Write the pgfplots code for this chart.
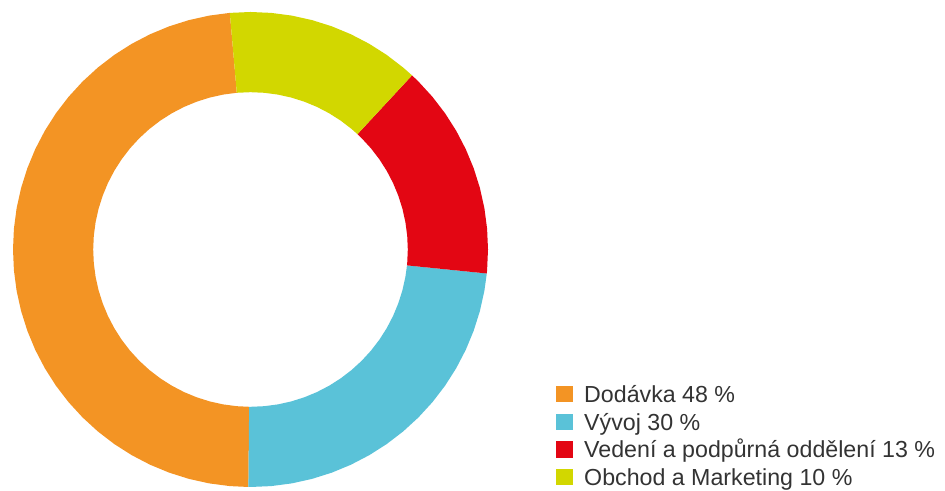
\documentclass[border=0pt]{standalone}
\usepackage{fontspec}
\setmainfont{Liberation Sans}
\usepackage{pgfplots}
\pgfplotsset{compat=1.18}
\definecolor{cOrange}{HTML}{F39424}
\definecolor{cCyan}{HTML}{5AC2D8}
\definecolor{cRed}{HTML}{E30613}
\definecolor{cYellow}{HTML}{D2D700}
\definecolor{cText}{HTML}{333333}
\begin{document}
\begin{tikzpicture}
\begin{axis}[
  x=0.5pt, y=0.5pt,
  xmin=-240, xmax=240, ymin=-240, ymax=240,
  hide axis, clip=false,
  data cs=polar,
  anchor=origin, at={(125.25pt,120.75pt)},
  legend cell align=left,
  legend image code/.code={\fill[#1] (0pt,-4.05pt) rectangle (8.4pt,4.15pt);},
  legend style={draw=none, fill=none, inner sep=0pt, outer sep=0pt,
    at={(1.13646,0.2156)}, anchor=north west,
    row sep=5.6pt, column sep=5.7pt,
    font=\fontsize{11.6}{13}\selectfont,
    nodes={inner sep=0pt, text=cText, text height=8.1pt, text depth=0pt}},
]
% Dodávka (orange)
\addplot[fill=cOrange, draw=none] coordinates {
(95,237.5)(100,237.5)(105,237.5)(110,237.5)(115,237.5)(120,237.5)(125,237.5)(130,237.5)(135,237.5)(140,237.5)(145,237.5)(150,237.5)(155,237.5)(160,237.5)(165,237.5)(170,237.5)(175,237.5)(180,237.5)(185,237.5)(190,237.5)(195,237.5)(200,237.5)(205,237.5)(210,237.5)(215,237.5)(220,237.5)(225,237.5)(230,237.5)(235,237.5)(240,237.5)(245,237.5)(250,237.5)(255,237.5)(260,237.5)(265,237.5)(269.5,237.5)
(269.5,157.3)(265,157.3)(260,157.3)(255,157.3)(250,157.3)(245,157.3)(240,157.3)(235,157.3)(230,157.3)(225,157.3)(220,157.3)(215,157.3)(210,157.3)(205,157.3)(200,157.3)(195,157.3)(190,157.3)(185,157.3)(180,157.3)(175,157.3)(170,157.3)(165,157.3)(160,157.3)(155,157.3)(150,157.3)(145,157.3)(140,157.3)(135,157.3)(130,157.3)(125,157.3)(120,157.3)(115,157.3)(110,157.3)(105,157.3)(100,157.3)(95,157.3)
};
\addlegendentry{Dodávka 48 \%}
% Vývoj (cyan)
\addplot[fill=cCyan, draw=none] coordinates {
(-5.8,237.5)(-10,237.5)(-15,237.5)(-20,237.5)(-25,237.5)(-30,237.5)(-35,237.5)(-40,237.5)(-45,237.5)(-50,237.5)(-55,237.5)(-60,237.5)(-65,237.5)(-70,237.5)(-75,237.5)(-80,237.5)(-85,237.5)(-90,237.5)(-90.5,237.5)
(-90.5,157.3)(-90,157.3)(-85,157.3)(-80,157.3)(-75,157.3)(-70,157.3)(-65,157.3)(-60,157.3)(-55,157.3)(-50,157.3)(-45,157.3)(-40,157.3)(-35,157.3)(-30,157.3)(-25,157.3)(-20,157.3)(-15,157.3)(-10,157.3)(-5.8,157.3)
};
\addlegendentry{Vývoj 30 \%}
% Vedení (red)
\addplot[fill=cRed, draw=none] coordinates {
(47.15,237.5)(45,237.5)(40,237.5)(35,237.5)(30,237.5)(25,237.5)(20,237.5)(15,237.5)(10,237.5)(5,237.5)(0,237.5)(-5,237.5)(-5.8,237.5)
(-5.8,157.3)(-5,157.3)(0,157.3)(5,157.3)(10,157.3)(15,157.3)(20,157.3)(25,157.3)(30,157.3)(35,157.3)(40,157.3)(45,157.3)(47.15,157.3)
};
\addlegendentry{Vedení a podpůrná oddělení 13 \%}
% Obchod (yellow)
\addplot[fill=cYellow, draw=none] coordinates {
(95,237.5)(90,237.5)(85,237.5)(80,237.5)(75,237.5)(70,237.5)(65,237.5)(60,237.5)(55,237.5)(50,237.5)(47.15,237.5)
(47.15,157.3)(50,157.3)(55,157.3)(60,157.3)(65,157.3)(70,157.3)(75,157.3)(80,157.3)(85,157.3)(90,157.3)(95,157.3)
};
\addlegendentry{Obchod a Marketing 10 \%}
\end{axis}
\pgfresetboundingbox
\path[use as bounding box] (0,0) rectangle (472.5pt,245.5pt);
\end{tikzpicture}
\end{document}
